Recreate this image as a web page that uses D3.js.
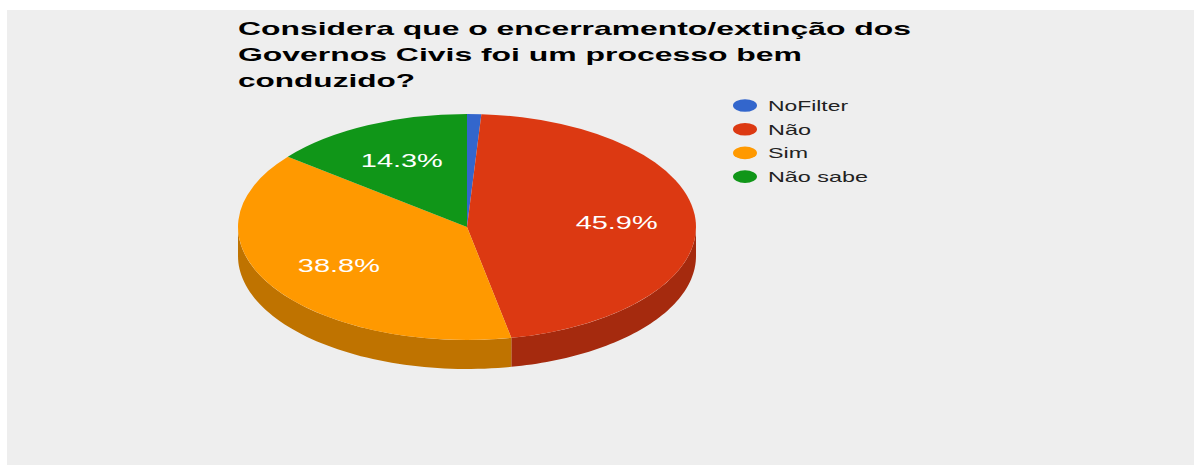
<!DOCTYPE html>
<html>
<head>
<meta charset="utf-8">
<script src="https://cdn.jsdelivr.net/npm/d3@7"></script>
<style>
  html, body { margin: 0; padding: 0; background: #ffffff; }
  svg { display: block; }
</style>
</head>
<body>
<div id="chart"></div>
<script>
// datos
const categories = ["NoFilter", "Não", "Sim", "Não sabe"];
const values     = [1.0, 45.9, 38.8, 14.3];
const colors     = ["#3366cc", "#dc3912", "#ff9900", "#109618"];
const sideColors = ["#264c99", "#a52a0e", "#bf7300", "#0c7112"];
const titleLines = [
  "Considera que o encerramento/extinção dos",
  "Governos Civis foi um processo bem",
  "conduzido?"
];
const titleWidths = [673, 564, 177];

// estilo / layout
const W = 1194, H = 465;
const FONT = "Arial, 'Liberation Sans', Helvetica, sans-serif";
const cx = 467, cy = 227, rx = 229, ry = 113, depth = 29;

const svg = d3.select("#chart").append("svg")
  .attr("width", W).attr("height", H);

svg.append("rect")
  .attr("x", 7).attr("y", 10)
  .attr("width", W - 7).attr("height", H - 10)
  .attr("fill", "#eeeeee");

// titulo
svg.append("g").selectAll("text")
  .data(titleLines)
  .join("text")
  .attr("x", 238)
  .attr("y", (d, i) => 35 + i * 26)
  .attr("font-family", FONT)
  .attr("font-weight", "bold")
  .attr("font-size", 19)
  .attr("fill", "#000")
  .attr("textLength", (d, i) => titleWidths[i])
  .attr("lengthAdjust", "spacingAndGlyphs")
  .text(d => d);

// pie
const pie = d3.pie().sort(null).value(d => d);
const arcs = pie(values);

const px = a => cx + rx * Math.sin(a);
const py = a => cy - ry * Math.cos(a);

// lados (solo la mitad frontal)
const line = d3.line();
const side = svg.append("g");
arcs.forEach((a, i) => {
  const a0 = Math.max(a.startAngle, Math.PI / 2);
  const a1 = Math.min(a.endAngle, 3 * Math.PI / 2);
  if (a0 >= a1) return;
  const n = 60;
  const top = d3.range(n + 1).map(k => a0 + (a1 - a0) * k / n);
  const pts = top.map(t => [px(t), py(t)])
    .concat(top.slice().reverse().map(t => [px(t), py(t) + depth]));
  side.append("path")
    .attr("d", line(pts) + "Z")
    .attr("fill", sideColors[i]);
});

// tapa superior
const arc = d3.arc().innerRadius(0).outerRadius(rx);
svg.append("g")
  .attr("transform", `translate(${cx},${cy}) scale(1,${ry / rx})`)
  .selectAll("path")
  .data(arcs)
  .join("path")
  .attr("d", arc)
  .attr("fill", (d, i) => colors[i]);

// etiquetas de porcentaje
const f = 0.655;
svg.append("g").selectAll("text")
  .data(arcs.filter(d => d.value >= 5))
  .join("text")
  .attr("x", d => cx + f * rx * Math.sin((d.startAngle + d.endAngle) / 2))
  .attr("y", d => cy - f * ry * Math.cos((d.startAngle + d.endAngle) / 2) + 7)
  .attr("text-anchor", "middle")
  .attr("font-family", FONT)
  .attr("font-size", 18.5)
  .attr("fill", "#ffffff")
  .attr("textLength", 82)
  .attr("lengthAdjust", "spacingAndGlyphs")
  .text(d => d.value.toFixed(1) + "%");

// leyenda
const legendWidths = [80, 43, 40, 100];
const lg = svg.append("g");
categories.forEach((c, i) => {
  const y = 105.5 + i * 23.7;
  lg.append("ellipse")
    .attr("cx", 745).attr("cy", y)
    .attr("rx", 12).attr("ry", 6.3)
    .attr("fill", colors[i]);
  lg.append("text")
    .attr("x", 768).attr("y", y + 5.3)
    .attr("font-family", FONT)
    .attr("font-size", 15)
    .attr("fill", "#222222")
    .attr("textLength", legendWidths[i])
    .attr("lengthAdjust", "spacingAndGlyphs")
    .text(c);
});
</script>
</body>
</html>
